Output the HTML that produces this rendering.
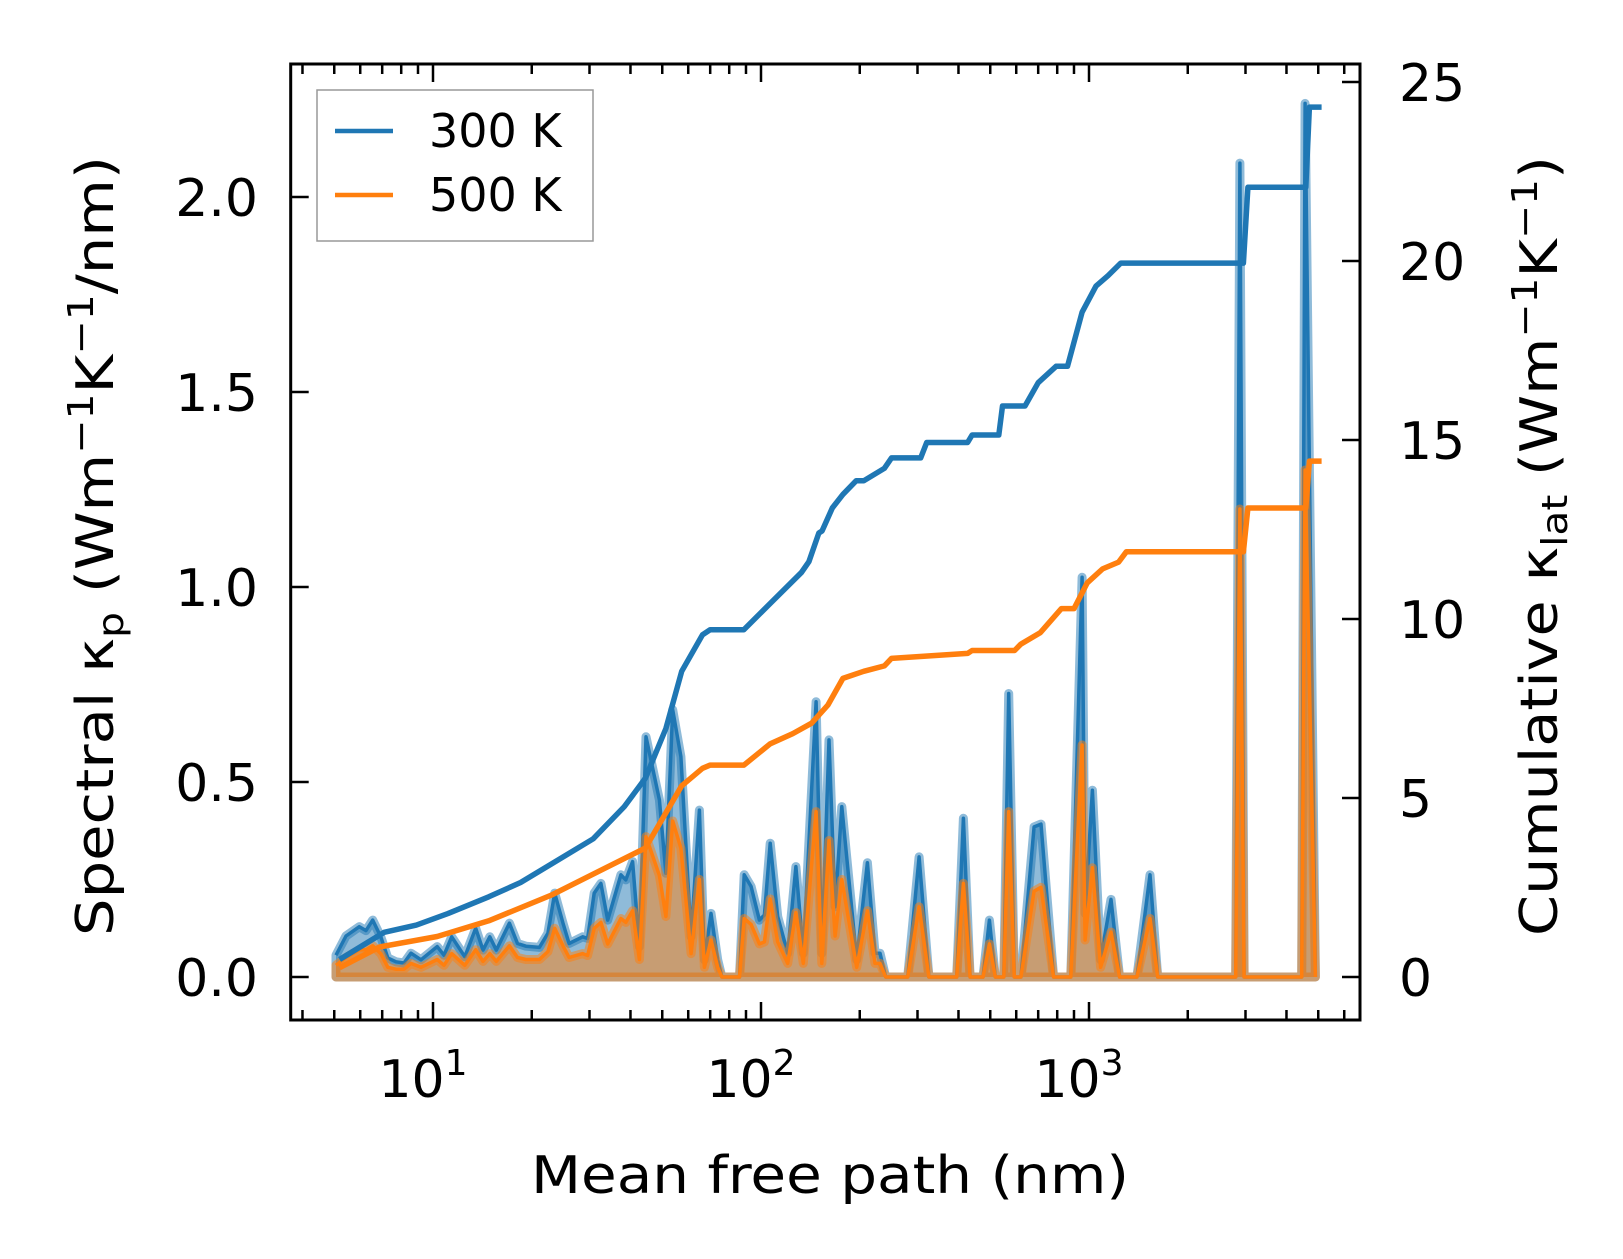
<!DOCTYPE html>
<html><head><meta charset="utf-8"><style>
html,body{margin:0;padding:0;background:#fff;}
svg{display:block;font-family:"DejaVu Sans","Liberation Sans",sans-serif;}
</style></head><body>
<svg id="chart" width="1623" height="1259" viewBox="0 0 1623 1259" xmlns="http://www.w3.org/2000/svg">
<rect width="1623" height="1259" fill="#fff"/>
<g id="series"></g>
<g id="axes"></g>
</svg>
<script>
const mfp = [5.06,5.43,5.96,6.25,6.55,6.93,7.28,7.71,8.16,8.57,
9.19,10.3,10.8,11.4,12.5,13.5,14.2,14.9,15.6,17.1,
18.1,19.2,21.1,22.4,23.5,24.9,26.0,28.6,29.6,31.0,
32.5,34.1,37.4,38.7,40.6,42.6,44.6,49.0,51.3,53.8,
57.0,61.2,64.9,67.2,70.4,73.8,76,86,88.9,93.3,
98.9,102.4,106.7,112.4,120.6,127.8,134.6,147.2,153.2,161.2,
168.2,176.3,195.8,211,222.6,230.6,240,280,303.5,325,
395,414,434,475,497,518,550,569,592,620,
680,714,780,880,953,973,1024,1085,1167,1240,
1400,1535,1620,2800,2884,2970,4450,4560,4900];
const spec300 = [0.056,0.105,0.129,0.119,0.146,0.103,0.049,0.039,0.036,0.061,
0.044,0.078,0.056,0.103,0.052,0.125,0.069,0.103,0.069,0.138,
0.086,0.079,0.076,0.112,0.215,0.138,0.086,0.103,0.099,0.215,
0.24,0.146,0.262,0.249,0.296,0.078,0.616,0.454,0.266,0.685,
0.565,0.103,0.428,0.044,0.163,0.044,0,0,0.262,0.232,
0.146,0.159,0.343,0.155,0.061,0.283,0.061,0.706,0.061,0.608,
0.18,0.437,0.044,0.293,0.061,0.061,0,0,0.308,0,
0,0.407,0,0,0.146,0,0,0.727,0,0,
0.385,0.392,0,0,1.025,0.163,0.479,0.044,0.199,0,
0,0.262,0,0,2.087,0,0,2.24,0];
const spec500 = [0.03,0.05,0.07,0.07,0.08,0.06,0.025,0.02,0.02,0.035,
0.025,0.045,0.03,0.06,0.03,0.07,0.04,0.06,0.04,0.08,
0.05,0.045,0.045,0.065,0.125,0.08,0.05,0.06,0.055,0.125,
0.14,0.085,0.15,0.14,0.17,0.045,0.36,0.26,0.155,0.40,
0.33,0.06,0.25,0.025,0.095,0.025,0,0,0.15,0.135,
0.085,0.09,0.2,0.09,0.035,0.165,0.035,0.424,0.035,0.35,
0.105,0.25,0.025,0.17,0.035,0.035,0,0,0.18,0,
0,0.24,0,0,0.085,0,0,0.424,0,0,
0.22,0.23,0,0,0.595,0.095,0.28,0.025,0.115,0,
0,0.15,0,0,1.2,0,0,1.3,0];
const cumMfp300 = [5.19,7.1,8.9,11.1,14.8,18.5,23.0,30.8,38.3,44.4,51.3,57.3,66.3,70,76.7,88.7,106.6,132.8,140,150,153.6,165,177.7,195,205.6,237.8,250,306.9,320,426.6,440,531,545,638,700,794,860,953,1050,1143,1250,1588,2957,3050,3179,4581,4700,4753,5117];
const cum300 = [0.49,1.25,1.45,1.77,2.24,2.64,3.16,3.86,4.76,5.55,6.94,8.54,9.56,9.70,9.70,9.70,10.43,11.30,11.60,12.40,12.46,13.10,13.48,13.86,13.86,14.21,14.50,14.50,14.93,14.93,15.14,15.14,15.95,15.95,16.60,17.06,17.06,18.57,19.30,19.59,19.94,19.94,19.94,22.06,22.06,22.06,24.3,24.3,24.3];
const cumMfp500 = [5.19,6.88,10.3,14.8,23.0,33.1,44.4,57.3,66.3,70,88.7,106.6,125,142.6,160,177.7,205.6,237.8,250,426.6,440,593,620,711,824,900,988,1100,1231,1300,1648,2957,3050,3179,4581,4700,4800,5117];
const cum500 = [0.26,0.84,1.13,1.57,2.29,3.02,3.6,5.34,5.83,5.92,5.92,6.51,6.80,7.09,7.60,8.34,8.54,8.69,8.90,9.04,9.12,9.12,9.30,9.62,10.29,10.29,11.01,11.40,11.59,11.88,11.88,11.88,13.1,13.1,13.1,14.41,14.41,14.41];
const yTicksLeft = [0.0,0.5,1.0,1.5,2.0];
const yTicksRight = [0,5,10,15,20,25];
const xTickExp = [1,2,3];

const NS="http://www.w3.org/2000/svg";
const L=290.7,R=1360,T=64,B=1020;
function xs(m){return 433+328*(Math.log10(m)-1);}
function yl(v){return 977-390*v;}
function yr(v){return 977-35.8*v;}
function mk(tag,attrs,parent){const e=document.createElementNS(NS,tag);for(const k in attrs)e.setAttribute(k,attrs[k]);parent.appendChild(e);return e;}
const S=document.getElementById('series'),A=document.getElementById('axes');
const clip=mk('clipPath',{id:'pc'},S);mk('rect',{x:L,y:T,width:R-L,height:B-T},clip);
S.setAttribute('clip-path','url(#pc)');

function spectral(vals,color,name){
  const g=mk('g',{},S);
  
  
  let pts=mfp.map((m,i)=>xs(m).toFixed(1)+','+yl(vals[i]).toFixed(1));
  let poly=pts.join(' ')+' '+xs(mfp[mfp.length-1]).toFixed(1)+','+yl(0)+' '+xs(mfp[0]).toFixed(1)+','+yl(0);
  mk('polygon',{points:poly,fill:color,'fill-opacity':0.5,stroke:color,'stroke-opacity':0.5,'stroke-width':9,'stroke-linejoin':'round'},g);
  mk('polyline',{points:pts.join(' '),fill:'none',stroke:color,'stroke-width':3.5,'stroke-linejoin':'round'},g);
}
spectral(spec300,'#1f77b4','spectral-300k');
spectral(spec500,'#ff7f0e','spectral-500k');
function cum(ms,vals,color,name){
  const p=mk('polyline',{points:ms.map((m,i)=>xs(m).toFixed(1)+','+yr(vals[i]).toFixed(1)).join(' '),fill:'none',stroke:color,'stroke-width':5.5,'stroke-linejoin':'round'},S);
  
  
}
cum(cumMfp300,cum300,'#1f77b4','cumulative-300k');
cum(cumMfp500,cum500,'#ff7f0e','cumulative-500k');

const fr=mk('rect',{x:L,y:T,width:R-L,height:B-T,fill:'none',stroke:'#000','stroke-width':3},A);


function tick(x1,y1,x2,y2){mk('line',{x1,y1,x2,y2,stroke:'#000','stroke-width':2.5},A);}
yTicksLeft.forEach(v=>{tick(L,yl(v),L+18,yl(v));const t=mk('text',{x:258,y:yl(v)+19,'text-anchor':'end','font-size':52},A);t.textContent=v.toFixed(1);

});
yTicksRight.forEach(v=>{tick(R,yr(v),R-18,yr(v));const t=mk('text',{x:1399,y:yr(v)+19,'text-anchor':'start','font-size':52},A);t.textContent=String(v);

});
for(let e=0;e<=3;e++){for(let d=1;d<=9;d++){const m=d*Math.pow(10,e);const x=xs(m);if(x<L||x>R)continue;const len=d===1?18:10;tick(x,B,x,B-len);tick(x,T,x,T+len);}}
xTickExp.forEach(e=>{const t=mk('text',{x:xs(Math.pow(10,e))-10,y:1097,'text-anchor':'middle','font-size':52},A);


t.innerHTML='10<tspan font-size="36" dy="-22">'+e+'</tspan>';});
const xt=mk('text',{x:830,y:1193,'text-anchor':'middle','font-size':52,textLength:598,lengthAdjust:'spacingAndGlyphs'},A);
xt.textContent='Mean free path (nm)';


const yt=mk('text',{x:0,y:0,'text-anchor':'middle','font-size':52,transform:'translate(113,546) rotate(-90)',textLength:780,lengthAdjust:'spacingAndGlyphs'},A);
yt.innerHTML='Spectral κ<tspan font-size="36" dy="10">p</tspan><tspan dy="-10"> (Wm</tspan><tspan font-size="36" dy="-20">−1</tspan><tspan dy="20">K</tspan><tspan font-size="36" dy="-20">−1</tspan><tspan dy="20">/nm)</tspan>';


const yt2=mk('text',{x:0,y:0,'text-anchor':'middle','font-size':52,transform:'translate(1557,546) rotate(-90)',textLength:780,lengthAdjust:'spacingAndGlyphs'},A);
yt2.innerHTML='Cumulative κ<tspan font-size="36" dy="10">lat</tspan><tspan dy="-10"> (Wm</tspan><tspan font-size="36" dy="-20">−1</tspan><tspan dy="20">K</tspan><tspan font-size="36" dy="-20">−1</tspan><tspan dy="20">)</tspan>';


const lg=mk('g',{},A);


mk('rect',{x:317,y:90,width:276,height:151,fill:'#fff','fill-opacity':0.8,stroke:'#999','stroke-width':1.5},lg);
[['300 K','#1f77b4',131],['500 K','#ff7f0e',195]].forEach(([lab,c,y])=>{
  const e=mk('g',{},lg);
  
  
  mk('line',{x1:335,y1:y,x2:393,y2:y,stroke:c,'stroke-width':4.5},e);
  const t=mk('text',{x:429,y:y+16,'font-size':46},e);t.textContent=lab;
});
</script>
</body></html>
